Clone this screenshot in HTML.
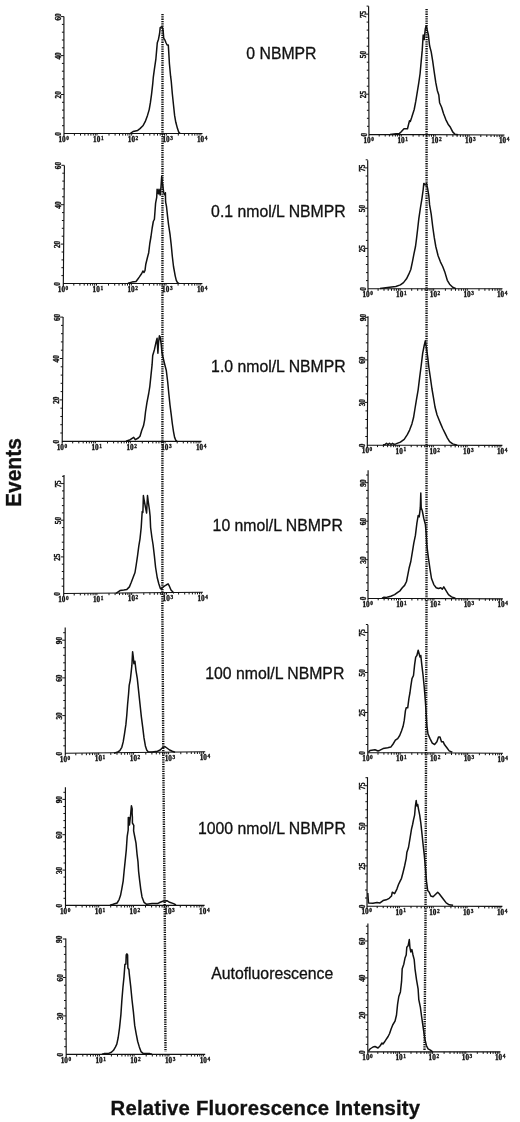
<!DOCTYPE html>
<html><head><meta charset="utf-8"><style>
html,body{margin:0;padding:0;background:#fff;}
body{width:520px;height:1122px;overflow:hidden;position:relative;}
svg{position:absolute;left:0;top:0;will-change:transform;}
.ax{fill:none;stroke:#111;stroke-width:1.15;}
.tk{fill:none;stroke:#111;stroke-width:1;}
.cv{fill:none;stroke:#111;stroke-width:1.5;stroke-linejoin:round;}
.dl{fill:none;stroke:#111;stroke-width:2.4;stroke-dasharray:1.3 1;}
.yl{font-family:"Liberation Serif",serif;font-weight:bold;font-size:7.3px;fill:#111;stroke:#111;stroke-width:0.35;text-anchor:middle;}
.xl{font-family:"Liberation Serif",serif;font-weight:bold;font-size:7.6px;fill:#111;stroke:#111;stroke-width:0.35;}
.sp{font-family:"Liberation Serif",serif;font-weight:bold;font-size:5.3px;fill:#111;stroke:#111;stroke-width:0.3;}
.lb{font-family:"Liberation Sans",sans-serif;font-size:15.8px;fill:#111;stroke:#111;stroke-width:0.3;}
.bl{font-family:"Liberation Sans",sans-serif;font-size:20px;font-weight:bold;fill:#111;stroke:#111;stroke-width:0.3;}
</style></head><body>
<svg width="520" height="1122" viewBox="0 0 520 1122">
<path class="dl" d="M162.5 14L162.4 612L163.4 770L164.8 922L165.5 1051.5"/>
<path class="dl" d="M426.6 9L426.5 612L425.5 922L424.5 1050.5"/>
<path class="ax" d="M63.9 16.6L64 136M64 133.5L202.5 133.5"/>
<path class="tk" d="M62 125.7H64M62 117.9H64M62 110.1H64M62 102.3H64M61 94.5H64M62 86.7H64M62 78.9H64M61.9 71.2H63.9M61.9 63.4H63.9M60.9 55.6H63.9M61.9 47.8H63.9M61.9 40H63.9M61.9 32.2H63.9M61.9 24.4H63.9M60.9 16.6H63.9"/>
<text class="yl" transform="translate(60.6 133.8) rotate(-90)">0</text>
<text class="yl" transform="translate(60.6 94.8) rotate(-90)">20</text>
<text class="yl" transform="translate(60.5 55.9) rotate(-90)">40</text>
<text class="yl" transform="translate(60.5 16.9) rotate(-90)">60</text>
<path class="tk" d="M74.4 133.5V135.6M80.5 133.5V135.6M84.8 133.5V135.6M88.2 133.5V135.6M90.9 133.5V135.6M93.3 133.5V135.6M95.3 133.5V135.6M97 133.5V135.6M109 133.5V135.6M115.1 133.5V135.6M119.5 133.5V135.6M122.8 133.5V135.6M125.6 133.5V135.6M127.9 133.5V135.6M129.9 133.5V135.6M131.7 133.5V135.6M143.7 133.5V135.6M149.8 133.5V135.6M154.1 133.5V135.6M157.5 133.5V135.6M160.2 133.5V135.6M162.5 133.5V135.6M164.5 133.5V135.6M166.3 133.5V135.6M178.3 133.5V135.6M184.4 133.5V135.6M188.7 133.5V135.6M192.1 133.5V135.6M194.8 133.5V135.6M197.1 133.5V135.6M199.1 133.5V135.6M200.9 133.5V135.6"/>
<text class="xl" x="58.5" y="141.9" textLength="7.2" lengthAdjust="spacingAndGlyphs">10</text><text class="sp" x="66.3" y="139.8">0</text>
<text class="xl" x="93.1" y="141.9" textLength="7.2" lengthAdjust="spacingAndGlyphs">10</text><text class="sp" x="100.9" y="139.8">1</text>
<text class="xl" x="127.8" y="141.9" textLength="7.2" lengthAdjust="spacingAndGlyphs">10</text><text class="sp" x="135.6" y="139.8">2</text>
<text class="xl" x="162.4" y="141.9" textLength="7.2" lengthAdjust="spacingAndGlyphs">10</text><text class="sp" x="170.2" y="139.8">3</text>
<text class="xl" x="197" y="141.9" textLength="7.2" lengthAdjust="spacingAndGlyphs">10</text><text class="sp" x="204.8" y="139.8">4</text>
<path class="cv" d="M130.5 133.3L133.1 131.5L137.7 130.4L140 128.6L142.9 125.8L145.2 121.7L147.5 115.4L149.2 109.6L150.4 102.7L151.5 94.6L152.7 84.2L153.3 77.3L154.4 69.2L155.9 58.8L156.7 49.6L157.3 42.7L158.5 39.2L159.6 33.5L160.2 27.7L161.9 26.5L163.1 30L163.7 38.1L164.8 39.8L166 42.7L167.1 45L168.3 45L168.8 53.1L169.4 63.5L170.6 76.2L171.2 80.8L172.3 93.5L173.5 105L174.6 115.4L175.8 122.3L177.5 128.6L178.7 132.1L180 133.2"/>
<path class="ax" d="M64.4 165.4L63.3 286M63.3 283.5L202.4 283.5"/>
<path class="tk" d="M61.4 275.6H63.4M61.4 267.7H63.4M61.5 259.9H63.5M61.6 252H63.6M60.7 244.1H63.7M61.7 236.2H63.7M61.8 228.3H63.8M61.9 220.5H63.9M62 212.6H64M61 204.7H64M62.1 196.8H64.1M62.2 188.9H64.2M62.3 181.1H64.3M62.3 173.2H64.3M61.4 165.3H64.4"/>
<text class="yl" transform="translate(59.9 283.8) rotate(-90)">0</text>
<text class="yl" transform="translate(60.3 244.4) rotate(-90)">20</text>
<text class="yl" transform="translate(60.6 205) rotate(-90)">40</text>
<text class="yl" transform="translate(61 165.6) rotate(-90)">60</text>
<path class="tk" d="M73.8 283.5V285.6M79.9 283.5V285.6M84.2 283.5V285.6M87.6 283.5V285.6M90.4 283.5V285.6M92.7 283.5V285.6M94.7 283.5V285.6M96.5 283.5V285.6M108.5 283.5V285.6M114.7 283.5V285.6M119 283.5V285.6M122.4 283.5V285.6M125.1 283.5V285.6M127.5 283.5V285.6M129.5 283.5V285.6M131.3 283.5V285.6M143.3 283.5V285.6M149.4 283.5V285.6M153.8 283.5V285.6M157.2 283.5V285.6M159.9 283.5V285.6M162.2 283.5V285.6M164.3 283.5V285.6M166 283.5V285.6M178.1 283.5V285.6M184.2 283.5V285.6M188.6 283.5V285.6M191.9 283.5V285.6M194.7 283.5V285.6M197 283.5V285.6M199 283.5V285.6M200.8 283.5V285.6"/>
<text class="xl" x="57.8" y="291.9" textLength="7.2" lengthAdjust="spacingAndGlyphs">10</text><text class="sp" x="65.6" y="289.8">0</text>
<text class="xl" x="92.6" y="291.9" textLength="7.2" lengthAdjust="spacingAndGlyphs">10</text><text class="sp" x="100.4" y="289.8">1</text>
<text class="xl" x="127.4" y="291.9" textLength="7.2" lengthAdjust="spacingAndGlyphs">10</text><text class="sp" x="135.2" y="289.8">2</text>
<text class="xl" x="162.1" y="291.9" textLength="7.2" lengthAdjust="spacingAndGlyphs">10</text><text class="sp" x="169.9" y="289.8">3</text>
<text class="xl" x="196.9" y="291.9" textLength="7.2" lengthAdjust="spacingAndGlyphs">10</text><text class="sp" x="204.7" y="289.8">4</text>
<path class="cv" d="M128 283.3L131.9 282.1L136 281.5L137.7 279.2L139.4 276.9L141.7 273.5L142.9 271L144 272.5L145 270.5L145.8 264.2L147.5 257.3L148.7 252.7L149.8 243.5L151 236.5L152.1 228.5L153.3 221.5L154.4 219.2L155 211.2L155.6 203.1L156.7 197.3L157.1 189.2L158.5 193.8L159 189.2L160.2 195L161 186.9L161.7 176.5L162.2 181.2L163.1 188.1L163.7 192.7L164.8 195L165.4 192.7L165.6 201.9L166.5 206.5L167.5 215.8L168.6 225L170 234.2L171.2 244.6L172.3 256.2L173.5 266.5L175.2 275.8L176.3 280.4L177.5 282.7L179 283.4"/>
<path class="ax" d="M63.1 317L62.2 443.8M62.2 441.3L201.5 441.3"/>
<path class="tk" d="M60.3 433H62.3M60.3 424.7H62.3M60.4 416.5H62.4M60.4 408.2H62.4M59.5 399.9H62.5M60.6 391.6H62.6M60.6 383.3H62.6M60.7 375.1H62.7M60.7 366.8H62.7M59.8 358.5H62.8M60.9 350.2H62.9M60.9 341.9H62.9M61 333.7H63M61 325.4H63M60.1 317.1H63.1"/>
<text class="yl" transform="translate(58.8 441.6) rotate(-90)">0</text>
<text class="yl" transform="translate(59.1 400.2) rotate(-90)">20</text>
<text class="yl" transform="translate(59.4 358.8) rotate(-90)">40</text>
<text class="yl" transform="translate(59.7 317.4) rotate(-90)">60</text>
<path class="tk" d="M72.7 441.3V443.4M78.8 441.3V443.4M83.2 441.3V443.4M86.5 441.3V443.4M89.3 441.3V443.4M91.6 441.3V443.4M93.7 441.3V443.4M95.4 441.3V443.4M107.5 441.3V443.4M113.6 441.3V443.4M118 441.3V443.4M121.4 441.3V443.4M124.1 441.3V443.4M126.5 441.3V443.4M128.5 441.3V443.4M130.3 441.3V443.4M142.3 441.3V443.4M148.5 441.3V443.4M152.8 441.3V443.4M156.2 441.3V443.4M158.9 441.3V443.4M161.3 441.3V443.4M163.3 441.3V443.4M165.1 441.3V443.4M177.2 441.3V443.4M183.3 441.3V443.4M187.6 441.3V443.4M191 441.3V443.4M193.8 441.3V443.4M196.1 441.3V443.4M198.1 441.3V443.4M199.9 441.3V443.4"/>
<text class="xl" x="56.7" y="449.7" textLength="7.2" lengthAdjust="spacingAndGlyphs">10</text><text class="sp" x="64.5" y="447.6">0</text>
<text class="xl" x="91.5" y="449.7" textLength="7.2" lengthAdjust="spacingAndGlyphs">10</text><text class="sp" x="99.3" y="447.6">1</text>
<text class="xl" x="126.4" y="449.7" textLength="7.2" lengthAdjust="spacingAndGlyphs">10</text><text class="sp" x="134.2" y="447.6">2</text>
<text class="xl" x="161.2" y="449.7" textLength="7.2" lengthAdjust="spacingAndGlyphs">10</text><text class="sp" x="169" y="447.6">3</text>
<text class="xl" x="196" y="449.7" textLength="7.2" lengthAdjust="spacingAndGlyphs">10</text><text class="sp" x="203.8" y="447.6">4</text>
<path class="cv" d="M126 441.2L130.2 439.7L133.7 437.4L135.4 439.7L138.3 438L140 436.2L141.7 430.5L143.5 425.8L144.6 420.1L145.5 412L146.9 402.8L148.7 393.5L149.8 386.6L151 375.1L152.1 364.7L152.7 355.5L154.4 349.7L155.9 342.8L157.1 338.2L157.9 353.2L158.5 342.8L159.4 335.8L160.2 337L161.3 345.1L161.9 352L163.1 357.8L164.8 364.7L166.3 370.5L167.7 382L168.8 393.5L170 405.1L171.2 414.3L172.3 423.5L173.5 431.6L174.6 437.4L175.8 440.3L177 441.2"/>
<path class="ax" d="M64 475L63.7 596M63.7 593.5L202.9 592.2"/>
<path class="tk" d="M61.7 586.2H63.7M61.7 578.8H63.7M61.8 571.5H63.8M61.8 564.2H63.8M60.8 556.9H63.8M61.8 549.5H63.8M61.8 542.2H63.8M61.8 534.9H63.8M61.9 527.6H63.9M60.9 520.2H63.9M61.9 512.9H63.9M61.9 505.6H63.9M61.9 498.3H63.9M62 490.9H64M61 483.6H64M62 476.3H64"/>
<text class="yl" transform="translate(60.3 593.8) rotate(-90)">0</text>
<text class="yl" transform="translate(60.4 557.2) rotate(-90)">25</text>
<text class="yl" transform="translate(60.5 520.5) rotate(-90)">50</text>
<text class="yl" transform="translate(60.6 483.9) rotate(-90)">75</text>
<path class="tk" d="M74.2 593.4V595.5M80.3 593.3V595.4M84.7 593.3V595.4M88 593.3V595.4M90.8 593.2V595.3M93.1 593.2V595.3M95.1 593.2V595.3M96.9 593.2V595.3M109 593.1V595.2M115.1 593V595.1M119.5 593V595.1M122.8 592.9V595M125.6 592.9V595M127.9 592.9V595M129.9 592.9V595M131.7 592.9V595M143.8 592.8V594.9M149.9 592.7V594.8M154.3 592.7V594.8M157.6 592.6V594.7M160.4 592.6V594.7M162.7 592.6V594.7M164.7 592.6V594.7M166.5 592.5V594.6M178.6 592.4V594.5M184.7 592.4V594.5M189.1 592.3V594.4M192.4 592.3V594.4M195.2 592.3V594.4M197.5 592.3V594.4M199.5 592.2V594.3M201.3 592.2V594.3"/>
<text class="xl" x="58.2" y="601.9" textLength="7.2" lengthAdjust="spacingAndGlyphs">10</text><text class="sp" x="66" y="599.8">0</text>
<text class="xl" x="93" y="601.6" textLength="7.2" lengthAdjust="spacingAndGlyphs">10</text><text class="sp" x="100.8" y="599.5">1</text>
<text class="xl" x="127.8" y="601.2" textLength="7.2" lengthAdjust="spacingAndGlyphs">10</text><text class="sp" x="135.6" y="599.1">2</text>
<text class="xl" x="162.6" y="600.9" textLength="7.2" lengthAdjust="spacingAndGlyphs">10</text><text class="sp" x="170.4" y="598.8">3</text>
<text class="xl" x="197.4" y="600.6" textLength="7.2" lengthAdjust="spacingAndGlyphs">10</text><text class="sp" x="205.2" y="598.5">4</text>
<path class="cv" d="M116 593.3L120 590.6L123.8 590L126.9 589.4L129.4 586.9L131.2 582.5L133.1 577.5L135 572.5L136.2 565L137.5 556.2L138.8 546.2L140 538.8L141.2 527.5L141.6 521L142.2 511.5L142.9 512.5L143.4 495.5L144.2 500.5L145.5 507.5L146.6 513L147 505L147.5 495.5L148.3 502L149.4 509.5L150.1 516L150.6 527.5L151.9 537.5L153.1 545L154.4 556.2L155.6 567.5L157.2 577.5L158.8 583.8L160.2 588.1L161.5 589.4L162.5 587.5L164.4 586.2L166.2 585L168.1 583.8L169.4 586.2L171 590L172.2 591.2L174 593.3"/>
<path class="ax" d="M65.2 627.5L65.3 755.8M65.3 753.3L205.2 751.8"/>
<path class="tk" d="M63.3 745.8H65.3M63.3 738.2H65.3M63.3 730.7H65.3M63.3 723.1H65.3M62.3 715.6H65.3M63.3 708.1H65.3M63.3 700.5H65.3M63.3 693H65.3M63.2 685.4H65.2M62.2 677.9H65.2M63.2 670.4H65.2M63.2 662.8H65.2M63.2 655.3H65.2M63.2 647.7H65.2M62.2 640.2H65.2M63.2 632.7H65.2"/>
<text class="yl" transform="translate(61.9 753.6) rotate(-90)">0</text>
<text class="yl" transform="translate(61.9 715.9) rotate(-90)">30</text>
<text class="yl" transform="translate(61.8 678.2) rotate(-90)">60</text>
<text class="yl" transform="translate(61.8 640.5) rotate(-90)">90</text>
<path class="tk" d="M75.8 753.2V755.3M82 753.1V755.2M86.4 753.1V755.2M89.7 753V755.1M92.5 753V755.1M94.9 753V755.1M96.9 753V755.1M98.7 752.9V755M110.8 752.8V754.9M117 752.7V754.8M121.3 752.7V754.8M124.7 752.7V754.8M127.5 752.6V754.7M129.8 752.6V754.7M131.9 752.6V754.7M133.6 752.6V754.7M145.8 752.4V754.5M151.9 752.4V754.5M156.3 752.3V754.4M159.7 752.3V754.4M162.5 752.3V754.4M164.8 752.2V754.3M166.8 752.2V754.3M168.6 752.2V754.3M180.8 752.1V754.2M186.9 752V754.1M191.3 751.9V754M194.7 751.9V754M197.4 751.9V754M199.8 751.9V754M201.8 751.8V753.9M203.6 751.8V753.9"/>
<text class="xl" x="59.8" y="761.7" textLength="7.2" lengthAdjust="spacingAndGlyphs">10</text><text class="sp" x="67.6" y="759.6">0</text>
<text class="xl" x="94.8" y="761.3" textLength="7.2" lengthAdjust="spacingAndGlyphs">10</text><text class="sp" x="102.6" y="759.2">1</text>
<text class="xl" x="129.8" y="760.9" textLength="7.2" lengthAdjust="spacingAndGlyphs">10</text><text class="sp" x="137.6" y="758.8">2</text>
<text class="xl" x="164.7" y="760.6" textLength="7.2" lengthAdjust="spacingAndGlyphs">10</text><text class="sp" x="172.5" y="758.5">3</text>
<text class="xl" x="199.7" y="760.2" textLength="7.2" lengthAdjust="spacingAndGlyphs">10</text><text class="sp" x="207.5" y="758.1">4</text>
<path class="cv" d="M114 753.2L117.8 752L119.8 750.7L121.8 747.3L123.2 741.9L124.5 733.8L125.9 724.4L126.8 715L127.6 704.2L128.6 693.5L129.2 685.4L130.3 680L131.2 671.9L131.9 665.2L132.6 651.7L133.3 657.1L133.9 663.8L134.9 661.2L136 670.6L137.3 678.6L138.6 690.8L140 704.2L141.3 716.3L142.7 727.1L144 737.9L145.4 745.9L146.7 750L148.1 751.7L152.1 752L157.5 751.3L160.2 750L162.2 748L164.9 746.6L166.9 748L169.6 750L172.3 751.3L175 752.3"/>
<path class="ax" d="M65.4 787.2L65.5 907.9M65.5 905.4L204.6 905.4"/>
<path class="tk" d="M63.5 898.3H65.5M63.5 891.3H65.5M63.5 884.2H65.5M63.5 877.1H65.5M62.5 870.1H65.5M63.5 863H65.5M63.5 855.9H65.5M63.5 848.9H65.5M63.4 841.8H65.4M62.4 834.7H65.4M63.4 827.7H65.4M63.4 820.6H65.4M63.4 813.5H65.4M63.4 806.5H65.4M62.4 799.4H65.4M63.4 792.3H65.4"/>
<text class="yl" transform="translate(62.1 905.7) rotate(-90)">0</text>
<text class="yl" transform="translate(62.1 870.4) rotate(-90)">30</text>
<text class="yl" transform="translate(62 835) rotate(-90)">60</text>
<text class="yl" transform="translate(62 799.7) rotate(-90)">90</text>
<path class="tk" d="M76 905.4V907.5M82.1 905.4V907.5M86.4 905.4V907.5M89.8 905.4V907.5M92.6 905.4V907.5M94.9 905.4V907.5M96.9 905.4V907.5M98.7 905.4V907.5M110.7 905.4V907.5M116.9 905.4V907.5M121.2 905.4V907.5M124.6 905.4V907.5M127.3 905.4V907.5M129.7 905.4V907.5M131.7 905.4V907.5M133.5 905.4V907.5M145.5 905.4V907.5M151.6 905.4V907.5M156 905.4V907.5M159.4 905.4V907.5M162.1 905.4V907.5M164.4 905.4V907.5M166.5 905.4V907.5M168.2 905.4V907.5M180.3 905.4V907.5M186.4 905.4V907.5M190.8 905.4V907.5M194.1 905.4V907.5M196.9 905.4V907.5M199.2 905.4V907.5M201.2 905.4V907.5M203 905.4V907.5"/>
<text class="xl" x="60" y="913.8" textLength="7.2" lengthAdjust="spacingAndGlyphs">10</text><text class="sp" x="67.8" y="911.7">0</text>
<text class="xl" x="94.8" y="913.8" textLength="7.2" lengthAdjust="spacingAndGlyphs">10</text><text class="sp" x="102.6" y="911.7">1</text>
<text class="xl" x="129.6" y="913.8" textLength="7.2" lengthAdjust="spacingAndGlyphs">10</text><text class="sp" x="137.4" y="911.7">2</text>
<text class="xl" x="164.3" y="913.8" textLength="7.2" lengthAdjust="spacingAndGlyphs">10</text><text class="sp" x="172.1" y="911.7">3</text>
<text class="xl" x="199.1" y="913.8" textLength="7.2" lengthAdjust="spacingAndGlyphs">10</text><text class="sp" x="206.9" y="911.7">4</text>
<path class="cv" d="M110 905.2L113.1 904.3L117.1 903L119.1 899.6L120.5 895.6L121.8 888.8L123.2 880.8L124.1 871.3L125.2 860.6L126.3 849.8L127.2 836.3L128.2 830L128.3 817.5L129.5 818L129.5 825L130.6 815L131.4 805.8L132.2 809L132.1 813L132.4 817.3L132.4 823L133.8 825.4L133.6 830.8L134.7 836.5L136 843.1L137 853.8L138 861.9L138.6 871.3L139.7 880.8L140.7 888.8L142 896.9L144 902.3L146.7 904.3L152.1 903.6L157.5 903.6L160.2 902.3L163.5 901L166.9 900.7L169.6 902.3L173.6 903.6L176 905"/>
<path class="ax" d="M65.8 938.5L66.2 1056.9M66.2 1054.4L205.2 1054.4"/>
<path class="tk" d="M64.2 1046.7H66.2M64.1 1039H66.1M64.1 1031.3H66.1M64.1 1023.6H66.1M63.1 1015.9H66.1M64 1008.2H66M64 1000.5H66M64 992.9H66M64 985.2H66M62.9 977.5H65.9M63.9 969.8H65.9M63.9 962.1H65.9M63.9 954.4H65.9M63.8 946.7H65.8M62.8 939H65.8"/>
<text class="yl" transform="translate(62.8 1054.7) rotate(-90)">0</text>
<text class="yl" transform="translate(62.7 1016.2) rotate(-90)">30</text>
<text class="yl" transform="translate(62.5 977.8) rotate(-90)">60</text>
<text class="yl" transform="translate(62.4 939.3) rotate(-90)">90</text>
<path class="tk" d="M76.7 1054.4V1056.5M82.8 1054.4V1056.5M87.1 1054.4V1056.5M90.5 1054.4V1056.5M93.2 1054.4V1056.5M95.6 1054.4V1056.5M97.6 1054.4V1056.5M99.4 1054.4V1056.5M111.4 1054.4V1056.5M117.5 1054.4V1056.5M121.9 1054.4V1056.5M125.2 1054.4V1056.5M128 1054.4V1056.5M130.3 1054.4V1056.5M132.3 1054.4V1056.5M134.1 1054.4V1056.5M146.2 1054.4V1056.5M152.3 1054.4V1056.5M156.6 1054.4V1056.5M160 1054.4V1056.5M162.7 1054.4V1056.5M165.1 1054.4V1056.5M167.1 1054.4V1056.5M168.9 1054.4V1056.5M180.9 1054.4V1056.5M187 1054.4V1056.5M191.4 1054.4V1056.5M194.7 1054.4V1056.5M197.5 1054.4V1056.5M199.8 1054.4V1056.5M201.8 1054.4V1056.5M203.6 1054.4V1056.5"/>
<text class="xl" x="60.7" y="1062.8" textLength="7.2" lengthAdjust="spacingAndGlyphs">10</text><text class="sp" x="68.5" y="1060.7">0</text>
<text class="xl" x="95.5" y="1062.8" textLength="7.2" lengthAdjust="spacingAndGlyphs">10</text><text class="sp" x="103.2" y="1060.7">1</text>
<text class="xl" x="130.2" y="1062.8" textLength="7.2" lengthAdjust="spacingAndGlyphs">10</text><text class="sp" x="138" y="1060.7">2</text>
<text class="xl" x="164.9" y="1062.8" textLength="7.2" lengthAdjust="spacingAndGlyphs">10</text><text class="sp" x="172.8" y="1060.7">3</text>
<text class="xl" x="199.7" y="1062.8" textLength="7.2" lengthAdjust="spacingAndGlyphs">10</text><text class="sp" x="207.5" y="1060.7">4</text>
<path class="cv" d="M102 1054.2L104 1053.6L108.1 1053.6L111.4 1052.3L113.5 1050.3L115.5 1046.9L116.8 1044.2L118.2 1037.5L119.5 1028.1L120.9 1014.6L121.8 1001.1L122.9 987.7L124 976.9L124.9 964.5L125.9 964L126.2 955L126.9 953.8L127.6 955L127.7 962L127.9 968L128.9 969.5L129.3 974.2L130.7 986.3L132 999.8L133.4 1011.9L134.7 1025.4L136.1 1033.4L137.7 1041.5L139.3 1046.9L141 1051.6L143.1 1053.4L149.8 1053.6L152 1054.2"/>
<path class="ax" d="M368.6 6.2L369 136.8M369 134.3L504.5 135"/>
<path class="tk" d="M367 126.3H369M366.9 118.3H368.9M366.9 110.3H368.9M366.9 102.2H368.9M365.9 94.2H368.9M366.8 86.2H368.8M366.8 78.2H368.8M366.8 70.2H368.8M366.8 62.2H368.8M365.7 54.2H368.7M366.7 46.2H368.7M366.7 38.1H368.7M366.7 30.1H368.7M366.6 22.1H368.6M365.6 14.1H368.6M366.6 6.1H368.6"/>
<text class="yl" transform="translate(366.5 134.6) rotate(-90)">0</text>
<text class="yl" transform="translate(366.4 94.5) rotate(-90)">25</text>
<text class="yl" transform="translate(366.2 54.5) rotate(-90)">50</text>
<text class="yl" transform="translate(366.1 14.4) rotate(-90)">75</text>
<path class="tk" d="M379.2 134.4V136.5M385.2 134.4V136.5M389.4 134.4V136.5M392.7 134.4V136.5M395.4 134.4V136.5M397.6 134.4V136.5M399.6 134.5V136.6M401.3 134.5V136.6M413.1 134.5V136.6M419 134.6V136.7M423.3 134.6V136.7M426.6 134.6V136.7M429.2 134.6V136.7M431.5 134.6V136.7M433.5 134.6V136.7M435.2 134.6V136.7M446.9 134.7V136.8M452.9 134.7V136.8M457.1 134.8V136.9M460.4 134.8V136.9M463.1 134.8V136.9M465.4 134.8V136.9M467.3 134.8V136.9M469.1 134.8V136.9M480.8 134.9V137M486.8 134.9V137M491 134.9V137M494.3 134.9V137M497 135V137.1M499.3 135V137.1M501.2 135V137.1M502.9 135V137.1"/>
<text class="xl" x="363.5" y="142.7" textLength="7.2" lengthAdjust="spacingAndGlyphs">10</text><text class="sp" x="371.3" y="140.6">0</text>
<text class="xl" x="397.4" y="142.9" textLength="7.2" lengthAdjust="spacingAndGlyphs">10</text><text class="sp" x="405.2" y="140.8">1</text>
<text class="xl" x="431.2" y="143.1" textLength="7.2" lengthAdjust="spacingAndGlyphs">10</text><text class="sp" x="439.1" y="141">2</text>
<text class="xl" x="465.1" y="143.2" textLength="7.2" lengthAdjust="spacingAndGlyphs">10</text><text class="sp" x="472.9" y="141.1">3</text>
<text class="xl" x="499" y="143.4" textLength="7.2" lengthAdjust="spacingAndGlyphs">10</text><text class="sp" x="506.8" y="141.3">4</text>
<path class="cv" d="M390 134.4L396 133.8L399.5 133.4L401 132L404 128.8L407.5 128.8L408.8 123.5L409.5 120.8L410.3 121.5L411.5 118L414.2 109.5L415.8 101.2L417.3 91.9L418.8 82.7L420.1 73.5L421.2 61.2L422.2 50.4L423.2 35L424.2 39.6L425.3 28.8L426.2 25.8L427.3 30.4L428.4 35L429.6 45.8L431.2 51.9L432.7 61.2L434.2 71.9L435.8 82.7L437.3 90.4L438.8 95L439.6 102.7L441.6 107.3L443.5 113.5L445.8 119.6L448.1 124.2L450.4 127.3L452.7 131.9L455 134.2L458.1 134.7"/>
<path class="ax" d="M367.7 160.2L368 291.2M368 288.7L502.5 288.7"/>
<path class="tk" d="M366 280.6H368M366 272.6H368M365.9 264.5H367.9M365.9 256.5H367.9M364.9 248.4H367.9M365.9 240.4H367.9M365.9 232.3H367.9M365.8 224.3H367.8M365.8 216.2H367.8M364.8 208.2H367.8M365.8 200.1H367.8M365.8 192.1H367.8M365.8 184H367.8M365.7 176H367.7M364.7 167.9H367.7M365.7 159.8H367.7"/>
<text class="yl" transform="translate(365.5 289) rotate(-90)">0</text>
<text class="yl" transform="translate(365.4 248.7) rotate(-90)">25</text>
<text class="yl" transform="translate(365.3 208.5) rotate(-90)">50</text>
<text class="yl" transform="translate(365.2 168.2) rotate(-90)">75</text>
<path class="tk" d="M378.1 288.7V290.8M384 288.7V290.8M388.2 288.7V290.8M391.5 288.7V290.8M394.2 288.7V290.8M396.4 288.7V290.8M398.4 288.7V290.8M400.1 288.7V290.8M411.7 288.7V290.8M417.7 288.7V290.8M421.9 288.7V290.8M425.1 288.7V290.8M427.8 288.7V290.8M430 288.7V290.8M432 288.7V290.8M433.7 288.7V290.8M445.4 288.7V290.8M451.3 288.7V290.8M455.5 288.7V290.8M458.8 288.7V290.8M461.4 288.7V290.8M463.7 288.7V290.8M465.6 288.7V290.8M467.3 288.7V290.8M479 288.7V290.8M484.9 288.7V290.8M489.1 288.7V290.8M492.4 288.7V290.8M495 288.7V290.8M497.3 288.7V290.8M499.2 288.7V290.8M501 288.7V290.8"/>
<text class="xl" x="362.5" y="297.1" textLength="7.2" lengthAdjust="spacingAndGlyphs">10</text><text class="sp" x="370.3" y="295">0</text>
<text class="xl" x="396.1" y="297.1" textLength="7.2" lengthAdjust="spacingAndGlyphs">10</text><text class="sp" x="403.9" y="295">1</text>
<text class="xl" x="429.8" y="297.1" textLength="7.2" lengthAdjust="spacingAndGlyphs">10</text><text class="sp" x="437.6" y="295">2</text>
<text class="xl" x="463.4" y="297.1" textLength="7.2" lengthAdjust="spacingAndGlyphs">10</text><text class="sp" x="471.2" y="295">3</text>
<text class="xl" x="497" y="297.1" textLength="7.2" lengthAdjust="spacingAndGlyphs">10</text><text class="sp" x="504.8" y="295">4</text>
<path class="cv" d="M380 288.6L389.6 287.2L395.8 286.5L400.4 284.9L403.5 282.6L406.5 278.8L408.8 274.2L410.8 269.5L412.4 261.8L413.9 254.2L415.5 246.5L416.5 238.8L417.6 229.5L418.8 218.8L420.4 208L421.9 198.8L423.2 189.5L423.8 183.4L425.3 184.9L426.5 183.4L427.8 189.5L428.8 195.7L429.6 204.9L431.2 214.2L432.7 226.5L434.2 237.2L435.8 246.5L438.1 255.7L440.4 261.8L442.7 266.5L445 272.6L447.3 280.3L449.6 284.2L452.7 287.2L456 288.6"/>
<path class="ax" d="M368 316.2L367.3 447.5M367.3 445L502.4 445.4"/>
<path class="tk" d="M365.3 436.5H367.3M365.4 428H367.4M365.4 419.5H367.4M365.5 410.9H367.5M364.5 402.4H367.5M365.6 393.9H367.6M365.6 385.4H367.6M365.7 376.9H367.7M365.7 368.4H367.7M364.8 359.9H367.8M365.8 351.4H367.8M365.9 342.8H367.9M365.9 334.3H367.9M365.9 325.8H367.9M365 317.3H368"/>
<text class="yl" transform="translate(364.8 445.3) rotate(-90)">0</text>
<text class="yl" transform="translate(365 402.7) rotate(-90)">30</text>
<text class="yl" transform="translate(365.3 360.2) rotate(-90)">60</text>
<text class="yl" transform="translate(365.5 317.6) rotate(-90)">90</text>
<path class="tk" d="M377.5 445V447.1M383.4 445V447.1M387.6 445.1V447.2M390.9 445.1V447.2M393.6 445.1V447.2M395.8 445.1V447.2M397.8 445.1V447.2M399.5 445.1V447.2M411.2 445.1V447.2M417.2 445.1V447.2M421.4 445.2V447.3M424.7 445.2V447.3M427.4 445.2V447.3M429.6 445.2V447.3M431.6 445.2V447.3M433.3 445.2V447.3M445 445.2V447.3M451 445.2V447.3M455.2 445.3V447.4M458.5 445.3V447.4M461.1 445.3V447.4M463.4 445.3V447.4M465.4 445.3V447.4M467.1 445.3V447.4M478.8 445.3V447.4M484.7 445.3V447.4M489 445.4V447.5M492.2 445.4V447.5M494.9 445.4V447.5M497.2 445.4V447.5M499.1 445.4V447.5M500.9 445.4V447.5"/>
<text class="xl" x="361.8" y="453.4" textLength="7.2" lengthAdjust="spacingAndGlyphs">10</text><text class="sp" x="369.6" y="451.3">0</text>
<text class="xl" x="395.6" y="453.5" textLength="7.2" lengthAdjust="spacingAndGlyphs">10</text><text class="sp" x="403.4" y="451.4">1</text>
<text class="xl" x="429.4" y="453.6" textLength="7.2" lengthAdjust="spacingAndGlyphs">10</text><text class="sp" x="437.2" y="451.5">2</text>
<text class="xl" x="463.1" y="453.7" textLength="7.2" lengthAdjust="spacingAndGlyphs">10</text><text class="sp" x="470.9" y="451.6">3</text>
<text class="xl" x="496.9" y="453.8" textLength="7.2" lengthAdjust="spacingAndGlyphs">10</text><text class="sp" x="504.7" y="451.7">4</text>
<path class="cv" d="M383 445L385 444.6L386.5 443.3L388 444.6L389.5 443.2L391 444.5L392.5 443.3L394 444.3L395.8 443.9L400.4 442.1L404.2 439.3L407.3 434.7L409.6 430.1L411.9 423.9L413.5 417.8L415 408.5L416.5 399.3L418.1 390.1L419.6 377.8L421.2 365.5L422.7 353.2L424.2 345.5L425.3 340.8L426.5 348.5L427.8 357.8L428.8 367L430.4 377.8L431.9 388.5L433.5 397.8L435 407L437 414.7L438.8 419.3L440.7 423.9L442.7 428.5L445 433.2L447.3 437.8L449.6 441.6L452.7 443.9L457.3 445.2"/>
<path class="ax" d="M368.1 470.2L368 600.7M368 598.2L502.9 598.8"/>
<path class="tk" d="M366 590.5H368M366 582.8H368M366 575.1H368M366 567.4H368M365 559.7H368M366 552H368M366 544.3H368M366 536.6H368M366.1 528.9H368.1M365.1 521.2H368.1M366.1 513.5H368.1M366.1 505.8H368.1M366.1 498.1H368.1M366.1 490.4H368.1M365.1 482.7H368.1M366.1 475H368.1"/>
<text class="yl" transform="translate(365.5 598.5) rotate(-90)">0</text>
<text class="yl" transform="translate(365.5 560) rotate(-90)">30</text>
<text class="yl" transform="translate(365.6 521.5) rotate(-90)">60</text>
<text class="yl" transform="translate(365.6 483) rotate(-90)">90</text>
<path class="tk" d="M378.2 598.2V600.3M384.1 598.3V600.4M388.3 598.3V600.4M391.6 598.3V600.4M394.2 598.3V600.4M396.5 598.3V600.4M398.5 598.3V600.4M400.2 598.3V600.4M411.9 598.4V600.5M417.8 598.4V600.5M422 598.4V600.5M425.3 598.5V600.6M428 598.5V600.6M430.2 598.5V600.6M432.2 598.5V600.6M433.9 598.5V600.6M445.6 598.5V600.6M451.5 598.6V600.7M455.8 598.6V600.7M459 598.6V600.7M461.7 598.6V600.7M464 598.6V600.7M465.9 598.6V600.7M467.6 598.6V600.7M479.3 598.7V600.8M485.3 598.7V600.8M489.5 598.7V600.8M492.7 598.8V600.9M495.4 598.8V600.9M497.7 598.8V600.9M499.6 598.8V600.9M501.4 598.8V600.9"/>
<text class="xl" x="362.5" y="606.6" textLength="7.2" lengthAdjust="spacingAndGlyphs">10</text><text class="sp" x="370.3" y="604.5">0</text>
<text class="xl" x="396.2" y="606.8" textLength="7.2" lengthAdjust="spacingAndGlyphs">10</text><text class="sp" x="404" y="604.6">1</text>
<text class="xl" x="429.9" y="606.9" textLength="7.2" lengthAdjust="spacingAndGlyphs">10</text><text class="sp" x="437.8" y="604.8">2</text>
<text class="xl" x="463.7" y="607" textLength="7.2" lengthAdjust="spacingAndGlyphs">10</text><text class="sp" x="471.5" y="604.9">3</text>
<text class="xl" x="497.4" y="607.2" textLength="7.2" lengthAdjust="spacingAndGlyphs">10</text><text class="sp" x="505.2" y="605.1">4</text>
<path class="cv" d="M382 598.1L384 597.2L386 597.6L388 596.9L390.8 596.2L394.6 594.6L397.7 592.3L400 590.8L402.3 587.7L404.6 585.4L406.5 581.5L407.7 575.4L409.2 567.7L410.8 561.5L412.3 552.3L413.8 543.1L415.4 535.4L416.9 523.1L418.2 515.4L419.2 516.9L420.3 507.7L420.8 493.1L421.2 507.7L422.3 510.8L423.8 518.5L425.4 524.6L426.2 533.8L426.9 546.2L428.5 558.5L430 569.2L431.5 578.5L433.8 584.6L436.2 587.7L438.5 588.5L440.8 587.7L442.3 589.2L443.8 586.9L446.2 590.8L448.5 594.6L451.5 596.9L455.4 598.2"/>
<path class="ax" d="M367.9 624.7L367.8 755M367.8 752.5L503 753.2"/>
<path class="tk" d="M365.8 744.5H367.8M365.8 736.5H367.8M365.8 728.5H367.8M365.8 720.5H367.8M364.8 712.5H367.8M365.8 704.5H367.8M365.8 696.5H367.8M365.9 688.5H367.9M365.9 680.5H367.9M364.9 672.5H367.9M365.9 664.5H367.9M365.9 656.5H367.9M365.9 648.5H367.9M365.9 640.5H367.9M364.9 632.5H367.9M365.9 624.5H367.9"/>
<text class="yl" transform="translate(365.3 752.8) rotate(-90)">0</text>
<text class="yl" transform="translate(365.3 712.8) rotate(-90)">25</text>
<text class="yl" transform="translate(365.4 672.8) rotate(-90)">50</text>
<text class="yl" transform="translate(365.4 632.8) rotate(-90)">75</text>
<path class="tk" d="M378 752.6V754.7M383.9 752.6V754.7M388.1 752.6V754.7M391.4 752.6V754.7M394.1 752.6V754.7M396.4 752.6V754.7M398.3 752.7V754.8M400.1 752.7V754.8M411.8 752.7V754.8M417.7 752.8V754.9M421.9 752.8V754.9M425.2 752.8V754.9M427.9 752.8V754.9M430.2 752.8V754.9M432.1 752.8V754.9M433.9 752.8V754.9M445.6 752.9V755M451.5 752.9V755M455.7 753V755.1M459 753V755.1M461.7 753V755.1M464 753V755.1M465.9 753V755.1M467.7 753V755.1M479.4 753.1V755.2M485.3 753.1V755.2M489.5 753.1V755.2M492.8 753.1V755.2M495.5 753.2V755.3M497.8 753.2V755.3M499.7 753.2V755.3M501.5 753.2V755.3"/>
<text class="xl" x="362.3" y="760.9" textLength="7.2" lengthAdjust="spacingAndGlyphs">10</text><text class="sp" x="370.1" y="758.8">0</text>
<text class="xl" x="396.1" y="761.1" textLength="7.2" lengthAdjust="spacingAndGlyphs">10</text><text class="sp" x="403.9" y="759">1</text>
<text class="xl" x="429.9" y="761.2" textLength="7.2" lengthAdjust="spacingAndGlyphs">10</text><text class="sp" x="437.7" y="759.1">2</text>
<text class="xl" x="463.7" y="761.4" textLength="7.2" lengthAdjust="spacingAndGlyphs">10</text><text class="sp" x="471.5" y="759.3">3</text>
<text class="xl" x="497.5" y="761.6" textLength="7.2" lengthAdjust="spacingAndGlyphs">10</text><text class="sp" x="505.3" y="759.5">4</text>
<path class="cv" d="M368.5 752L370 750.5L375 749.8L378 751L380 750.2L383.1 748.6L387.7 747.8L390.8 747.1L393.1 744L395.4 740.2L397.7 738.6L399.7 735.5L401.5 730.9L403.1 726.3L404.3 720.2L405.4 710.9L406.2 707.8L407.7 707.8L408.9 698.6L410 692.5L410.8 686.3L412 678.6L413.5 675.5L414.6 664.8L415.7 657.1L416.9 655.5L418.2 650.2L419.2 654L420 657.1L420.8 655.5L421.8 664.8L423.1 675.5L424.3 687.8L425.4 701.7L426.2 714L426.9 726.3L428 734L430 738.6L432.3 743.2L434.6 744.5L436.9 741.7L438.5 737.1L440 737.1L441.5 741.7L443.1 741.7L444.6 744.8L446.9 747.8L449.2 750.9L452.3 752.2"/>
<path class="ax" d="M367.5 777.2L367 908.5M367 906L502.4 906.4"/>
<path class="tk" d="M365 898H367M365.1 890H367.1M365.1 881.9H367.1M365.1 873.9H367.1M364.2 865.9H367.2M365.2 857.9H367.2M365.2 849.9H367.2M365.2 841.8H367.2M365.3 833.8H367.3M364.3 825.8H367.3M365.3 817.8H367.3M365.4 809.8H367.4M365.4 801.7H367.4M365.4 793.7H367.4M364.5 785.7H367.5M365.5 777.7H367.5"/>
<text class="yl" transform="translate(364.5 906.3) rotate(-90)">0</text>
<text class="yl" transform="translate(364.7 866.2) rotate(-90)">25</text>
<text class="yl" transform="translate(364.8 826.1) rotate(-90)">50</text>
<text class="yl" transform="translate(365 786) rotate(-90)">75</text>
<path class="tk" d="M377.2 906V908.1M383.2 906V908.1M387.4 906.1V908.2M390.7 906.1V908.2M393.3 906.1V908.2M395.6 906.1V908.2M397.6 906.1V908.2M399.3 906.1V908.2M411 906.1V908.2M417 906.1V908.2M421.2 906.2V908.3M424.5 906.2V908.3M427.2 906.2V908.3M429.5 906.2V908.3M431.4 906.2V908.3M433.2 906.2V908.3M444.9 906.2V908.3M450.9 906.2V908.3M455.1 906.3V908.4M458.4 906.3V908.4M461 906.3V908.4M463.3 906.3V908.4M465.3 906.3V908.4M467 906.3V908.4M478.7 906.3V908.4M484.7 906.3V908.4M488.9 906.4V908.5M492.2 906.4V908.5M494.9 906.4V908.5M497.2 906.4V908.5M499.1 906.4V908.5M500.9 906.4V908.5"/>
<text class="xl" x="361.5" y="914.4" textLength="7.2" lengthAdjust="spacingAndGlyphs">10</text><text class="sp" x="369.3" y="912.3">0</text>
<text class="xl" x="395.4" y="914.5" textLength="7.2" lengthAdjust="spacingAndGlyphs">10</text><text class="sp" x="403.2" y="912.4">1</text>
<text class="xl" x="429.2" y="914.6" textLength="7.2" lengthAdjust="spacingAndGlyphs">10</text><text class="sp" x="437" y="912.5">2</text>
<text class="xl" x="463" y="914.7" textLength="7.2" lengthAdjust="spacingAndGlyphs">10</text><text class="sp" x="470.8" y="912.6">3</text>
<text class="xl" x="496.9" y="914.8" textLength="7.2" lengthAdjust="spacingAndGlyphs">10</text><text class="sp" x="504.7" y="912.7">4</text>
<path class="cv" d="M367.8 893L368.5 903L373 903.2L377 902.5L380 902.9L383.1 900.6L386.2 899.8L389.2 898.3L391.5 896L392.3 892.2L394.6 893.7L396.9 889.1L398.5 884.5L400 881.4L401.5 878.3L403.1 872.2L404.6 866L406.2 858.3L406.9 852.2L408.5 847.5L410 838.3L411.5 829.1L412.6 824.5L413.5 819.8L414.6 815.2L415.4 806L416.2 800.6L416.9 806L417.7 804.5L418.5 809.1L419.7 815.2L420.8 822.9L421.8 832.2L423.1 844.5L424.3 855.2L425.4 867.5L426.5 881.4L427.7 890.6L429.2 892.2L430.8 896L433.1 896.8L435.4 894.5L437.7 892.2L439.2 893.7L441.5 896.8L443.8 899.8L446.2 902.9L449.2 904.8L453.1 905.2"/>
<path class="ax" d="M367.9 923.6L367.8 1054.3M367.8 1051.8L500.5 1051.8"/>
<path class="tk" d="M365.8 1044.4H367.8M365.8 1037H367.8M365.8 1029.6H367.8M365.8 1022.3H367.8M364.8 1014.9H367.8M365.8 1007.5H367.8M365.8 1000.1H367.8M365.8 992.7H367.8M365.9 985.3H367.9M364.9 977.9H367.9M365.9 970.5H367.9M365.9 963.2H367.9M365.9 955.8H367.9M365.9 948.4H367.9M364.9 941H367.9M365.9 933.6H367.9M365.9 926.2H367.9"/>
<text class="yl" transform="translate(365.3 1052.1) rotate(-90)">0</text>
<text class="yl" transform="translate(365.3 1015.2) rotate(-90)">20</text>
<text class="yl" transform="translate(365.4 978.2) rotate(-90)">40</text>
<text class="yl" transform="translate(365.4 941.3) rotate(-90)">60</text>
<path class="tk" d="M377.8 1051.8V1053.9M383.6 1051.8V1053.9M387.8 1051.8V1053.9M391 1051.8V1053.9M393.6 1051.8V1053.9M395.8 1051.8V1053.9M397.8 1051.8V1053.9M399.5 1051.8V1053.9M411 1051.8V1053.9M416.8 1051.8V1053.9M420.9 1051.8V1053.9M424.2 1051.8V1053.9M426.8 1051.8V1053.9M429 1051.8V1053.9M430.9 1051.8V1053.9M432.6 1051.8V1053.9M444.1 1051.8V1053.9M450 1051.8V1053.9M454.1 1051.8V1053.9M457.3 1051.8V1053.9M460 1051.8V1053.9M462.2 1051.8V1053.9M464.1 1051.8V1053.9M465.8 1051.8V1053.9M477.3 1051.8V1053.9M483.2 1051.8V1053.9M487.3 1051.8V1053.9M490.5 1051.8V1053.9M493.1 1051.8V1053.9M495.4 1051.8V1053.9M497.3 1051.8V1053.9M499 1051.8V1053.9"/>
<text class="xl" x="362.3" y="1060.2" textLength="7.2" lengthAdjust="spacingAndGlyphs">10</text><text class="sp" x="370.1" y="1058.1">0</text>
<text class="xl" x="395.5" y="1060.2" textLength="7.2" lengthAdjust="spacingAndGlyphs">10</text><text class="sp" x="403.3" y="1058.1">1</text>
<text class="xl" x="428.6" y="1060.2" textLength="7.2" lengthAdjust="spacingAndGlyphs">10</text><text class="sp" x="436.4" y="1058.1">2</text>
<text class="xl" x="461.8" y="1060.2" textLength="7.2" lengthAdjust="spacingAndGlyphs">10</text><text class="sp" x="469.6" y="1058.1">3</text>
<text class="xl" x="495" y="1060.2" textLength="7.2" lengthAdjust="spacingAndGlyphs">10</text><text class="sp" x="502.8" y="1058.1">4</text>
<path class="cv" d="M368.5 1051L370 1049L373 1047L375 1046.5L376 1047L378 1048L380 1046L382 1043L383 1044L385 1041.2L388.1 1036.5L389.6 1033.5L391.2 1028.8L392.7 1025L395 1021.2L396.5 1015L397.6 1004.2L398.8 996.5L400.4 991.9L401.6 981.2L402.2 968.8L403.8 964.2L405 958.1L406.2 955L406.8 947.3L408.1 945.8L409.3 939.6L409.9 947.3L410.8 951.9L411.9 949.6L413 955L414.2 959.6L415 968.8L416.5 979.6L418.1 988.8L418.8 999.6L420.4 1007.3L421.6 1016.5L422.7 1024.2L423.8 1031.9L425 1039.6L426.5 1045.8L428.1 1048.8L430.4 1050.1L432.7 1051.9"/>
<text class="lb" x="246.3" y="58.9">0 NBMPR</text>
<text class="lb" x="211.1" y="217">0.1 nmol/L NBMPR</text>
<text class="lb" x="211.1" y="372">1.0 nmol/L NBMPR</text>
<text class="lb" x="212.6" y="531">10 nmol/L NBMPR</text>
<text class="lb" x="205.3" y="678.5">100 nmol/L NBMPR</text>
<text class="lb" x="198" y="833.5">1000 nmol/L NBMPR</text>
<text class="lb" x="211.2" y="979">Autofluorescence</text>
<text class="bl" style="font-size:21px" transform="translate(21.1 507) rotate(-90) scale(1 1.07)">Events</text>
<text class="bl" style="font-size:20.3px" x="110.6" y="1115.2" textLength="309.5" lengthAdjust="spacing">Relative Fluorescence Intensity</text>
</svg>
</body></html>
